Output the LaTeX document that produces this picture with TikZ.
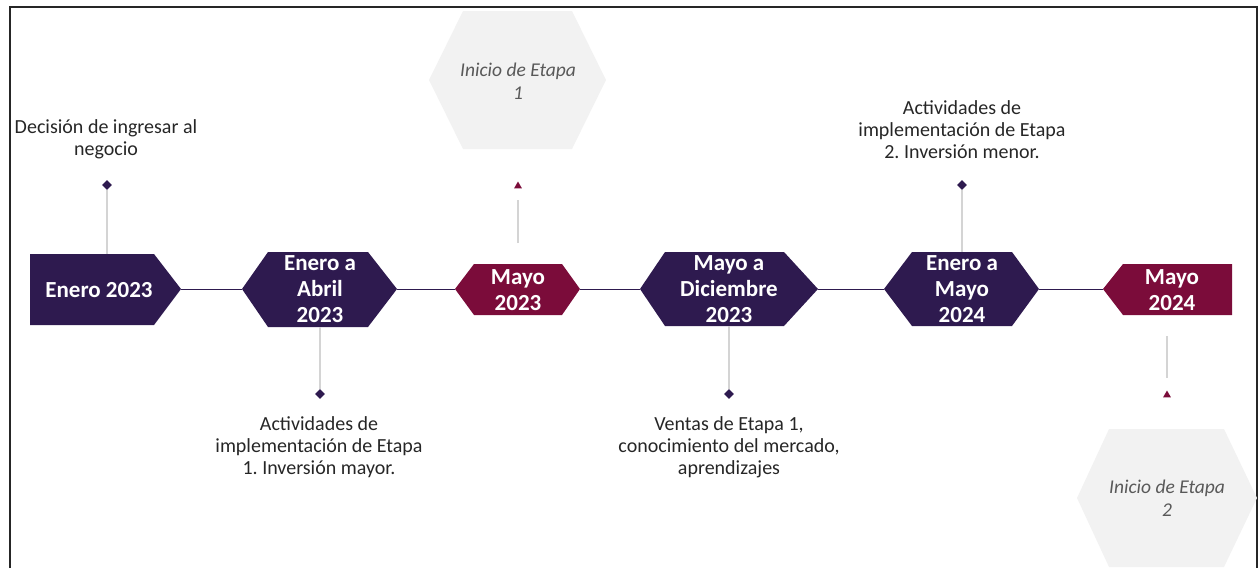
\documentclass[tikz,border=0pt]{standalone}
\usepackage{fontspec}
\setmainfont{Carlito}
\usetikzlibrary{shapes.geometric}
\definecolor{dpurple}{HTML}{2E1A4F}
\definecolor{mag}{HTML}{7B0C3A}
\definecolor{stemgray}{HTML}{D4D4D4}
\definecolor{hexgray}{HTML}{F2F2F2}
\definecolor{txt}{HTML}{262626}
\definecolor{ital}{HTML}{595959}
\frenchspacing
\begin{document}
\begin{tikzpicture}[x=1pt,y=-1pt,
  datetext/.style={text=white, font=\fontsize{23}{26}\selectfont\bfseries, align=center, inner sep=0},
  labeltext/.style={text=txt, font=\fontsize{20}{22}\selectfont, align=center, inner sep=0},
  italtext/.style={text=ital, font=\fontsize{19.5}{23}\selectfont\itshape, align=center, inner sep=0},
  timeline/.style={draw=dpurple, line width=1pt},
  stem/.style={draw=stemgray, line width=1.3pt},
  dmark/.style={diamond, fill=dpurple, inner sep=0, minimum size=10pt},
  tmark/.style={regular polygon, regular polygon sides=3, fill=mag, inner sep=0, minimum size=9pt},
  frame/.style={draw=black!85, line width=1.2pt}
]
\useasboundingbox (0,0) rectangle (1259,568);
% frame
\draw[frame] (10,568) -- (10,7) -- (1257,7) -- (1257,568);

% gray hexagons
\fill[hexgray] (429,80) -- (463,11) -- (572,11) -- (606,80) -- (572,149) -- (463,149) -- cycle;
\node[italtext] (h1) at (518,81) {Inicio de Etapa\\1};
\fill[hexgray] (1077,498) -- (1109,429) -- (1224,429) -- (1257,498) -- (1224,567) -- (1109,567) -- cycle;
\node[italtext] (h2) at (1167,498) {Inicio de Etapa\\2};

% timeline shapes
\fill[dpurple] (30,254) -- (154,254) -- (181,289) -- (154,325) -- (30,325) -- cycle;
\coordinate (e1r) at (181,289);
\coordinate (e1t) at (107,254);
\node[datetext] (e1) at (99,290) {Enero 2023};

\fill[dpurple] (242,289) -- (268,252) -- (368,252) -- (397,289) -- (368,327) -- (268,327) -- cycle;
\coordinate (e2l) at (242,289);
\coordinate (e2r) at (397,289);
\coordinate (e2b) at (320,327);
\node[datetext] (e2) at (320,289) {Enero a\\Abril\\2023};

\fill[mag] (455,289) -- (474,264) -- (562,264) -- (580,289) -- (562,315) -- (474,315) -- cycle;
\coordinate (e3l) at (455,289);
\coordinate (e3r) at (580,289);
\node[datetext] (e3) at (518,290) {Mayo\\2023};

\fill[dpurple] (640,289) -- (665,252) -- (784,252) -- (818,289) -- (784,326) -- (665,326) -- cycle;
\coordinate (e4l) at (640,289);
\coordinate (e4r) at (818,289);
\coordinate (e4b) at (729,326);
\node[datetext] (e4) at (729,289) {Mayo a\\Diciembre\\2023};

\fill[dpurple] (884,289) -- (912,252) -- (1012,252) -- (1039,289) -- (1012,326) -- (912,326) -- cycle;
\coordinate (e5l) at (884,289);
\coordinate (e5r) at (1039,289);
\coordinate (e5t) at (962,252);
\node[datetext] (e5) at (962,289) {Enero a\\Mayo\\2024};

\fill[mag] (1103,289) -- (1123,264) -- (1232,264) -- (1232,315) -- (1123,315) -- cycle;
\coordinate (e6l) at (1103,289);
\node[datetext] (e6) at (1172,290) {Mayo\\2024};

% timeline connectors
\draw[timeline] (e1r) -- (e2l);
\draw[timeline] (e2r) -- (e3l);
\draw[timeline] (e3r) -- (e4l);
\draw[timeline] (e4r) -- (e5l);
\draw[timeline] (e5r) -- (e6l);

% stems and marks
\node[dmark] (d1) at (107,185) {};
\draw[stem] (e1t) -- (d1);
\node[labeltext] (l1) at (106,139) {Decisión de ingresar al\\negocio};

\node[dmark] (d2) at (320,394) {};
\draw[stem] (e2b) -- (d2);
\node[labeltext] (l2) at (319,447) {Actividades de\\implementación de Etapa\\1. Inversión mayor.};

\coordinate (s3a) at (518,243);
\coordinate (s3b) at (518,200);
\draw[stem] (s3a) -- (s3b);
\node[tmark] (t3) at (518,186) {};

\node[dmark] (d4) at (729,394) {};
\draw[stem] (e4b) -- (d4);
\node[labeltext] (l4) at (729,447) {Ventas de Etapa 1,\\conocimiento del mercado,\\aprendizajes};

\node[dmark] (d5) at (962,185) {};
\draw[stem] (e5t) -- (d5);
\node[labeltext] (l5) at (962,130) {Actividades de\\implementación de Etapa\\2. Inversión menor.};

\coordinate (s6a) at (1167,336);
\coordinate (s6b) at (1167,378);
\draw[stem] (s6a) -- (s6b);
\node[tmark] (t6) at (1167,395) {};
\end{tikzpicture}
\end{document}
